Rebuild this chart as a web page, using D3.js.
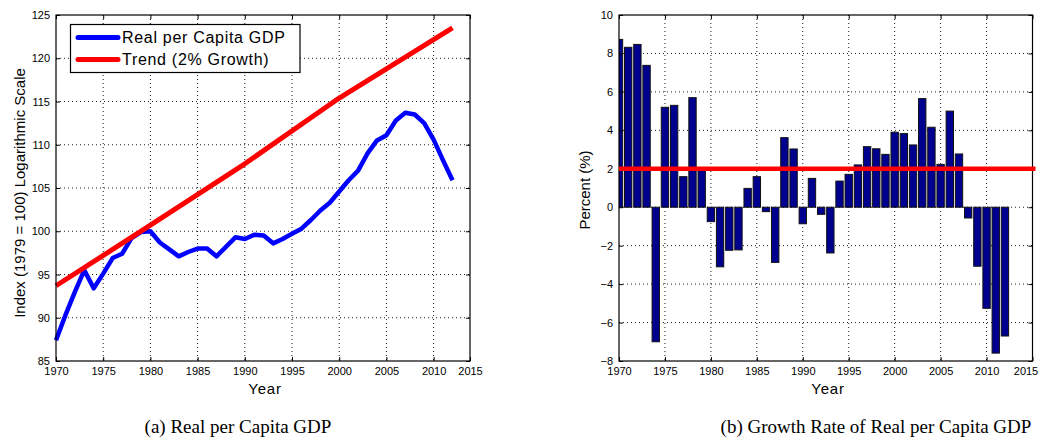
<!DOCTYPE html>
<html>
<head>
<meta charset="utf-8">
<script src="https://cdn.jsdelivr.net/npm/d3@7"></script>
<style>
  body { margin: 0; background: #fff; }
  text { font-family: Arial, "Liberation Sans", Helvetica, sans-serif; fill: #000; }
  .caption { font-family: "Liberation Serif", "DejaVu Serif", serif; }
</style>
</head>
<body>
<svg id="fig" width="1040" height="443"></svg>
<script>
// --- Data ---
const years = [1970, 1971, 1972, 1973, 1974, 1975, 1976, 1977, 1978, 1979,
  1980, 1981, 1982, 1983, 1984, 1985, 1986, 1987, 1988, 1989,
  1990, 1991, 1992, 1993, 1994, 1995, 1996, 1997, 1998, 1999,
  2000, 2001, 2002, 2003, 2004, 2005, 2006, 2007, 2008, 2009,
  2010, 2011, 2012];

// (a) real per capita GDP index (1979 = 100)
const gdpIndex = [87.4, 90.3, 93.0, 95.5, 93.4, 95.1, 96.9, 97.4, 99.2, 99.9,
  100.0, 98.7, 97.9, 97.1, 97.6, 98.0, 98.0, 97.1, 98.2, 99.3,
  99.1, 99.6, 99.5, 98.6, 99.1, 99.7, 100.3, 101.3, 102.4, 103.3,
  104.6, 105.9, 107.0, 109.0, 110.5, 111.1, 112.8, 113.7, 113.5, 112.5,
  110.6, 108.2, 105.9];

// (a) 2% growth trend
const trendYears = [1970, 1980, 1990, 2000, 2012];
const trendValues = [93.7, 100.7, 107.8, 115.4, 123.5];

// (b) growth rate of real per capita GDP, percent
const growthRate = [8.73, 8.32, 8.47, 7.38, -7.0, 5.2, 5.3, 1.59, 5.7, 1.95,
  -0.75, -3.1, -2.24, -2.22, 0.98, 1.59, -0.23, -2.87, 3.62, 3.03,
  -0.86, 1.5, -0.37, -2.38, 1.36, 1.71, 2.2, 3.15, 3.04, 2.75,
  3.9, 3.83, 3.24, 5.65, 4.16, 2.23, 5.0, 2.77, -0.56, -3.07,
  -5.26, -7.59, -6.7];
const growthRef = 2; // the 2% line

const yearTicks = [1970, 1975, 1980, 1985, 1990, 1995, 2000, 2005, 2010, 2015];
const indexTicks = [85, 90, 95, 100, 105, 110, 115, 120, 125];
const percentTicks = [-8, -6, -4, -2, 0, 2, 4, 6, 8, 10];

const legendLabels = ["Real per Capita GDP", "Trend (2% Growth)"];
const captions = ["(a) Real per Capita GDP", "(b) Growth Rate of Real per Capita GDP"];

// --- Helpers ---
const svg = d3.select("#fig");
svg.append("rect").attr("width", 1040).attr("height", 443).attr("fill", "#fff");

function drawFrame(g, x, y, xt, yt, box, id) {
  // dotted grid (interior only)
  const grid = g.append("g").attr("stroke", "#000").attr("stroke-width", 0.9)
    .attr("stroke-dasharray", "1,3");
  xt.slice(1, -1).forEach(t => grid.append("line")
    .attr("x1", x(t)).attr("x2", x(t)).attr("y1", box.top).attr("y2", box.bottom));
  yt.slice(1, -1).forEach(t => grid.append("line")
    .attr("x1", box.left).attr("x2", box.right).attr("y1", y(t)).attr("y2", y(t)));

  g.append("clipPath").attr("id", id).append("rect")
    .attr("x", box.left).attr("y", box.top)
    .attr("width", box.right - box.left).attr("height", box.bottom - box.top);
}

function drawAxes(g, x, y, xt, yt, box) {
  const ax = (axis, tr) => {
    const a = g.append("g").attr("transform", tr).call(axis);
    a.select(".domain").remove();
    a.selectAll("line").attr("stroke", "#000");
    a.selectAll("text").attr("font-size", 11).attr("font-family", "Arial, 'Liberation Sans', sans-serif");
    return a;
  };
  const bottom = ax(d3.axisBottom(x).tickValues(xt).tickFormat(d3.format("d")).tickSizeInner(-4).tickSizeOuter(0).tickPadding(6),
    `translate(0,${box.bottom})`);
  ax(d3.axisTop(x).tickValues(xt).tickFormat("").tickSizeInner(-4).tickSizeOuter(0),
    `translate(0,${box.top})`);
  ax(d3.axisLeft(y).tickValues(yt).tickFormat(d3.format("d")).tickSizeInner(-4).tickSizeOuter(0).tickPadding(6),
    `translate(${box.left},0)`);
  ax(d3.axisRight(y).tickValues(yt).tickFormat("").tickSizeInner(-4).tickSizeOuter(0),
    `translate(${box.right},0)`);
  g.append("rect").attr("x", box.left).attr("y", box.top)
    .attr("width", box.right - box.left).attr("height", box.bottom - box.top)
    .attr("fill", "none").attr("stroke", "#000").attr("stroke-width", 1.2);
  return bottom;
}

// --- (a) Real per capita GDP ---
const boxA = { left: 56, right: 470, top: 15, bottom: 361 };
const xA = d3.scaleLinear().domain([1970, 2012, 2015]).range([boxA.left, 452.5, boxA.right]);
const yA = d3.scaleLinear().domain([85, 125]).range([boxA.bottom, boxA.top]);
const gA = svg.append("g");
drawFrame(gA, xA, yA, yearTicks, indexTicks, boxA, "clipA");

const lineA = d3.line().x(d => xA(d[0])).y(d => yA(d[1]));
gA.append("path")
  .attr("d", lineA(years.map((yr, i) => [yr, gdpIndex[i]])))
  .attr("fill", "none").attr("stroke", "#0000ff").attr("stroke-width", 4.5)
  .attr("stroke-linejoin", "round");
gA.append("path")
  .attr("d", lineA(trendYears.map((yr, i) => [yr, trendValues[i]])))
  .attr("fill", "none").attr("stroke", "#ff0000").attr("stroke-width", 5)
  .attr("stroke-linejoin", "round");

drawAxes(gA, xA, yA, yearTicks, indexTicks, boxA);

// legend
const leg = gA.append("g");
leg.append("rect").attr("x", 70.5).attr("y", 24.5).attr("width", 229.5).attr("height", 48)
  .attr("fill", "#fff").attr("stroke", "#000").attr("stroke-width", 1.2);
[["#0000ff", 37.5], ["#ff0000", 59.5]].forEach(([c, yy], i) => {
  leg.append("line").attr("x1", 78).attr("x2", 118).attr("y1", yy).attr("y2", yy)
    .attr("stroke", c).attr("stroke-width", 5).attr("stroke-linecap", "round");
  leg.append("text").attr("x", 122).attr("y", yy + 5.5)
    .attr("font-size", 16).attr("letter-spacing", 0.7).text(legendLabels[i]);
});

gA.append("text").attr("x", 265).attr("y", 394).attr("text-anchor", "middle")
  .attr("font-size", 15).attr("letter-spacing", 0.8).text("Year");
gA.append("text").attr("transform", "translate(25,193) rotate(-90)").attr("text-anchor", "middle")
  .attr("font-size", 15).text("Index (1979 = 100) Logarithmic Scale");

// --- (b) Growth rate ---
const boxB = { left: 619, right: 1032.5, top: 15, bottom: 361 };
const xB = d3.scaleLinear().domain([1970, 2015]).range([boxB.left, boxB.right]);
const yB = d3.scaleLinear().domain([-8, 10]).range([boxB.bottom, boxB.top]);
const gB = svg.append("g");
drawFrame(gB, xB, yB, yearTicks, percentTicks, boxB, "clipB");

const barW = (xB(1971) - xB(1970)) * 0.8;
gB.append("g").attr("clip-path", "url(#clipB)")
  .selectAll("rect").data(years).join("rect")
  .attr("x", d => xB(d) - barW / 2)
  .attr("width", barW)
  .attr("y", (d, i) => yB(Math.max(0, growthRate[i])))
  .attr("height", (d, i) => Math.abs(yB(growthRate[i]) - yB(0)))
  .attr("fill", "#00008f").attr("stroke", "#111").attr("stroke-width", 1);

const bottomB = drawAxes(gB, xB, yB, yearTicks, percentTicks, boxB);
// last year label sits at the page edge; nudge it in so it stays whole
bottomB.selectAll(".tick text").filter(d => d === 2015).attr("dx", -7);

// the 2% line is drawn over the frame
gB.append("line")
  .attr("x1", xB(1970)).attr("x2", xB(2015) + 3)
  .attr("y1", yB(growthRef)).attr("y2", yB(growthRef))
  .attr("stroke", "#ff0000").attr("stroke-width", 4.5);

gB.append("text").attr("x", 828).attr("y", 394).attr("text-anchor", "middle")
  .attr("font-size", 15).attr("letter-spacing", 0.8).text("Year");
gB.append("text").attr("transform", "translate(590,190) rotate(-90)").attr("text-anchor", "middle")
  .attr("font-size", 15).text("Percent (%)");

// --- captions ---
svg.append("text").attr("class", "caption").attr("x", 238).attr("y", 433)
  .attr("text-anchor", "middle").attr("font-size", 19).text(captions[0]);
svg.append("text").attr("class", "caption").attr("x", 876).attr("y", 433)
  .attr("text-anchor", "middle").attr("font-size", 19).text(captions[1]);
</script>
</body>
</html>
